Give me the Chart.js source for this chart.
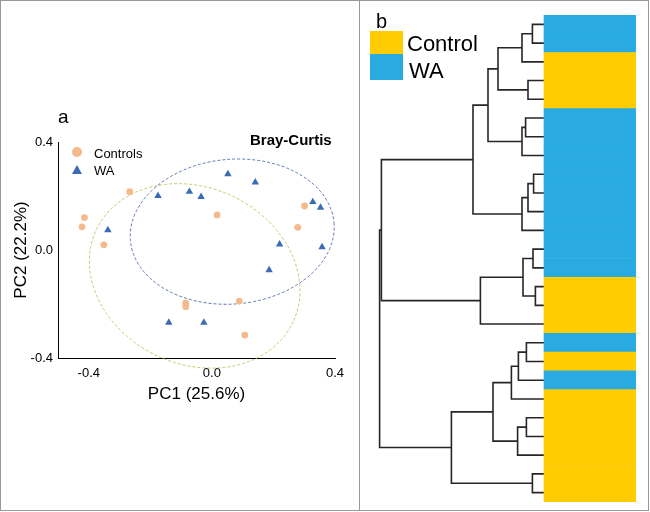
<!DOCTYPE html>
<html>
<head>
<meta charset="utf-8">
<title>PCoA + dendrogram</title>
<script src="https://cdn.jsdelivr.net/npm/chart.js@4.4.0/dist/chart.umd.min.js"></script>
<style>
  html, body { margin: 0; padding: 0; background: #fff; }
  #wrap { position: relative; width: 650px; height: 512px; overflow: hidden;
          font-family: "Liberation Sans", Arial, sans-serif; color: #000; }
  .frame { position: absolute; left: 0; top: 0; width: 649px; height: 511px;
           box-sizing: border-box; border: 1px solid #999; }
  .divider { position: absolute; left: 359px; top: 0; width: 1px; height: 511px; background: #999; }
  .txt { position: absolute; line-height: 1; white-space: nowrap; }
  canvas { position: absolute; }
  #pcoa { left: 0; top: 0; }
  #dendro { left: 364px; top: 15px; }
  .sw { position: absolute; }
  .dot { position: absolute; width: 10px; height: 10px; border-radius: 50%; background: #f5b98b; }
  .tri { position: absolute; width: 0; height: 0; border-left: 5px solid transparent;
         border-right: 5px solid transparent; border-bottom: 9px solid #3a6cb5; }
</style>
</head>
<body>
<div id="wrap">
  <canvas id="pcoa" width="360" height="512"></canvas>
  <canvas id="dendro" width="272" height="487"></canvas>

  <!-- panel a labels / legend -->
  <div class="txt" style="left:58px; top:107px; font-size:19px;">a</div>
  <div class="txt" style="left:250px; top:132px; font-size:15px; font-weight:bold;">Bray-Curtis</div>
  <div class="dot" style="left:72px; top:147px;"></div>
  <div class="txt" style="left:94px; top:147px; font-size:13px;">Controls</div>
  <div class="tri" style="left:72px; top:165px;"></div>
  <div class="txt" style="left:94px; top:164px; font-size:13px;">WA</div>

  <!-- panel b labels / legend -->
  <div class="txt" style="left:376px; top:11px; font-size:20px;">b</div>
  <div class="sw" style="left:370px; top:31px; width:33px; height:23px; background:#fecc00;"></div>
  <div class="sw" style="left:370px; top:54px; width:33px; height:26px; background:#29abe2;"></div>
  <div class="txt" style="left:407px; top:33px; font-size:22px;">Control</div>
  <div class="txt" style="left:409px; top:60px; font-size:22px;">WA</div>

  <div class="frame"></div>
  <div class="divider"></div>
</div>

<script>
/* ================== Data ================== */
// panel a: PCoA scores (PC1, PC2)
const controlsPC1 = [-0.267, -0.414, -0.422, -0.351, 0.017, 0.301, 0.279, -0.085, -0.085, 0.089, 0.107];
const controlsPC2 = [0.216, 0.120, 0.086, 0.019, 0.130, 0.163, 0.084, -0.197, -0.210, -0.189, -0.315];
const waPC1 = [-0.175, -0.073, -0.035, 0.052, 0.141, -0.338, 0.328, 0.353, 0.220, 0.358, 0.186, -0.140, -0.026];
const waPC2 = [0.201, 0.216, 0.197, 0.281, 0.251, 0.074, 0.178, 0.157, 0.021, 0.011, -0.074, -0.269, -0.269];
const xTicks = [-0.4, 0.0, 0.4];
const yTicks = [-0.4, 0.0, 0.4];

// confidence ellipses: centre, radii (data units), tilt (deg)
const ellipseWA = { cx: 0.066, cy: 0.068, rx: 0.332, ry: 0.268, angle: -5 };
const ellipseCtrl = { cx: -0.056, cy: -0.096, rx: 0.353, ry: 0.327, angle: 25 };

// panel b: leaf order (top -> bottom) and group of each leaf
const leafGroups = [
  "WA", "WA", "Control", "Control", "Control",
  "WA", "WA", "WA", "WA", "WA", "WA", "WA", "WA", "WA",
  "Control", "Control", "Control", "WA", "Control", "WA",
  "Control", "Control", "Control", "Control", "Control", "Control",
];
// linkage: [childA, childB, height]; ids >= 26 are earlier merges
const linkage = [
  [0, 1, 0.058],   // 26
  [26, 2, 0.11],   // 27
  [3, 4, 0.08],    // 28
  [27, 28, 0.23],  // 29
  [5, 6, 0.092],   // 30
  [30, 7, 0.11],   // 31
  [29, 31, 0.28],  // 32
  [8, 9, 0.052],   // 33
  [33, 10, 0.08],  // 34
  [34, 11, 0.11],  // 35
  [32, 35, 0.355], // 36
  [12, 13, 0.055], // 37
  [14, 15, 0.043], // 38
  [37, 38, 0.105], // 39
  [39, 16, 0.318], // 40
  [36, 40, 0.813], // 41
  [17, 18, 0.088], // 42
  [42, 19, 0.128], // 43
  [43, 20, 0.163], // 44
  [21, 22, 0.088], // 45
  [45, 23, 0.132], // 46
  [44, 46, 0.255], // 47
  [24, 25, 0.058], // 48
  [47, 48, 0.463], // 49
  [41, 49, 0.822], // 50
];

/* ================== Styles ================== */
const FONT = "'Liberation Sans', Arial, sans-serif";
const C_CTRL = "#f5b98b";
const C_WA = "#3a6cb5";
const BAR_COLORS = { Control: "#fecc00", WA: "#29abe2" };
const BAR_END = -0.46; // colour strip width, in dendrogram height units
Chart.defaults.font.family = FONT;
Chart.defaults.color = "#000";

const toXY = (xs, ys) => xs.map((x, i) => ({ x, y: ys[i] }));

/* ================== Panel a: PCoA scatter ================== */
const ellipsePlugin = {
  id: "ellipses",
  beforeDatasetsDraw(chart) {
    const { ctx, scales: { x, y } } = chart;
    [[ellipseCtrl, "#c9c86e"], [ellipseWA, "#5f78b3"]].forEach(([e, color]) => {
      const cx = x.getPixelForValue(e.cx);
      const cy = y.getPixelForValue(e.cy);
      const rx = Math.abs(x.getPixelForValue(e.cx + e.rx) - cx);
      const ry = Math.abs(y.getPixelForValue(e.cy + e.ry) - cy);
      ctx.save();
      ctx.beginPath();
      ctx.setLineDash([3, 2]);
      ctx.lineWidth = 1;
      ctx.strokeStyle = color;
      ctx.ellipse(cx, cy, rx, ry, (e.angle * Math.PI) / 180, 0, Math.PI * 2);
      ctx.stroke();
      ctx.restore();
    });
  },
};

new Chart(document.getElementById("pcoa"), {
  type: "scatter",
  data: {
    datasets: [
      {
        label: "Controls",
        data: toXY(controlsPC1, controlsPC2),
        pointStyle: "circle",
        pointRadius: 3.4,
        backgroundColor: C_CTRL,
        borderColor: C_CTRL,
        borderWidth: 0,
      },
      {
        label: "WA",
        data: toXY(waPC1, waPC2),
        pointStyle: "triangle",
        pointRadius: 4.3,
        backgroundColor: C_WA,
        borderColor: C_WA,
        borderWidth: 0,
      },
    ],
  },
  options: {
    responsive: false,
    animation: false,
    events: [],
    layout: { padding: { left: 0, top: 142, right: 25, bottom: 104 } },
    plugins: { legend: { display: false }, tooltip: { enabled: false } },
    scales: {
      x: {
        min: -0.5,
        max: 0.4,
        grid: { display: false, drawTicks: false },
        border: { display: true, color: "#000", width: 1 },
        afterBuildTicks: (s) => { s.ticks = xTicks.map((v) => ({ value: v })); },
        ticks: { font: { size: 13 }, color: "#000", padding: 8, maxRotation: 0,
                 callback: (v) => Number(v).toFixed(1) },
        title: { display: true, text: "PC1 (25.6%)", font: { size: 17 }, color: "#000",
                 padding: { top: 0, bottom: 3 } },
        afterFit: (s) => { s.height = 50; },
      },
      y: {
        min: -0.4,
        max: 0.4,
        grid: { display: false, drawTicks: false },
        border: { display: true, color: "#000", width: 1 },
        afterBuildTicks: (s) => { s.ticks = yTicks.map((v) => ({ value: v })); },
        ticks: { font: { size: 13 }, color: "#000", padding: 5,
                 callback: (v) => Number(v).toFixed(1) },
        title: { display: true, text: "PC2 (22.2%)", font: { size: 17 }, color: "#000",
                 padding: { top: 11, bottom: 0 } },
        afterFit: (s) => { s.width = 58; },
      },
    },
  },
  plugins: [ellipsePlugin],
});

/* ================== Panel b: dendrogram + group strip ================== */
const nodeY = leafGroups.map((_, i) => i);
const nodeH = leafGroups.map(() => 0);
const branchSets = linkage.map(([a, b, h]) => {
  const pts = [
    { x: nodeH[a], y: nodeY[a] },
    { x: h, y: nodeY[a] },
    { x: h, y: nodeY[b] },
    { x: nodeH[b], y: nodeY[b] },
  ];
  nodeY.push((nodeY[a] + nodeY[b]) / 2);
  nodeH.push(h);
  return {
    type: "scatter",
    data: pts,
    showLine: true,
    borderColor: "#262626",
    borderWidth: 1.6,
    pointRadius: 0,
    tension: 0,
    clip: false,
  };
});

const stripSet = {
  type: "bar",
  indexAxis: "y",
  data: leafGroups.map((g, i) => ({ x: [BAR_END, 0], y: i })),
  backgroundColor: leafGroups.map((g) => BAR_COLORS[g]),
  borderWidth: 0,
  barPercentage: 1,
  categoryPercentage: 1,
};

new Chart(document.getElementById("dendro"), {
  type: "scatter",
  data: { datasets: [stripSet, ...branchSets] },
  options: {
    responsive: false,
    animation: false,
    events: [],
    layout: { padding: 0 },
    plugins: { legend: { display: false }, tooltip: { enabled: false } },
    scales: {
      x: { display: false, reverse: true, min: BAR_END, max: 0.9, offset: false },
      y: { display: false, reverse: true, min: -0.5, max: leafGroups.length - 0.5,
           offset: false, grid: { offset: false } },
    },
  },
});
</script>
</body>
</html>
